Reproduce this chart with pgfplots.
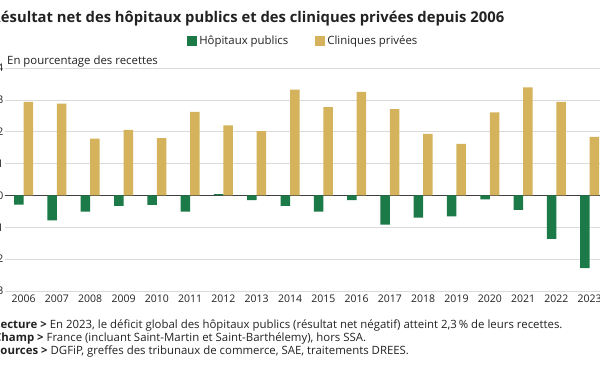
\documentclass[border=0pt]{standalone}
\usepackage{pgfplots}
\pgfplotsset{compat=1.18}
\usepackage{fontspec}
\setmainfont{Open Sans}
\definecolor{hop}{HTML}{1B7A47}
\definecolor{cli}{HTML}{D4B35C}
\definecolor{txt}{HTML}{222222}
\definecolor{gridc}{HTML}{DADADA}
\begin{document}
\begin{tikzpicture}
\begin{axis}[
  at={(5pt,-291pt)}, anchor=south west,
  scale only axis, width=595pt, height=223pt,
  xmin=2005.44, xmax=2023.31, ymin=-3, ymax=4,
  axis line style={draw=none},
  major tick length=0pt,
  ytick={-3,-2,-1,0,1,2,3,4},
  yticklabels={−3,−2,−1,0,1,2,3,4},
  xtick={2006,2007,2008,2009,2010,2011,2012,2013,2014,2015,2016,2017,2018,2019,2020,2021,2022,2023},
  xticklabels={2006,2007,2008,2009,2010,2011,2012,2013,2014,2015,2016,2017,2018,2019,2020,2021,2022,2023},
  ymajorgrids, grid style={gridc, line width=0.7pt},
  extra y ticks={0}, extra y tick labels={},
  extra y tick style={grid style={black!75, line width=0.9pt}},
  tick label style={font=\fontsize{10.5}{13}\selectfont, text=txt},
  yticklabel style={anchor=east, inner sep=0pt, xshift=-1.5pt},
  xticklabel style={anchor=north, inner sep=0pt, yshift=-4pt},
  legend style={at={(axis description cs:0.306,1.121)}, anchor=west, draw=none, fill=none, inner sep=0pt,
    font=\fontsize{11.4}{13}\selectfont, text=txt,
    /tikz/every even column/.append style={column sep=25pt}},
  legend columns=2,
  legend image code/.code={\fill[#1] (0pt,-5pt) rectangle (10pt,5pt);},
]
\addplot[ybar, bar width=9.5pt, bar shift=-4.75pt, fill=hop, draw=none] coordinates {
(2006,-0.29) (2007,-0.78) (2008,-0.51) (2009,-0.33) (2010,-0.30) (2011,-0.51)
(2012,0.04) (2013,-0.15) (2014,-0.33) (2015,-0.51) (2016,-0.15) (2017,-0.92)
(2018,-0.70) (2019,-0.66) (2020,-0.12) (2021,-0.45) (2022,-1.36) (2023,-2.28)};
\addlegendentry{Hôpitaux publics}
\addplot[ybar, bar width=9.5pt, bar shift=4.75pt, fill=cli, draw=none] coordinates {
(2006,2.94) (2007,2.88) (2008,1.78) (2009,2.06) (2010,1.80) (2011,2.62)
(2012,2.20) (2013,2.02) (2014,3.32) (2015,2.77) (2016,3.25) (2017,2.71)
(2018,1.93) (2019,1.62) (2020,2.61) (2021,3.39) (2022,2.94) (2023,1.84)};
\addlegendentry{Cliniques privées}
\end{axis}
\node[anchor=base west, inner sep=0pt, text=txt, font=\bfseries\fontsize{14.8}{18}\selectfont] at (-9pt,-23pt) {Résultat net des hôpitaux publics et des cliniques privées depuis 2006};
\node[anchor=base west, inner sep=0pt, text=txt, font=\fontsize{11.4}{13}\selectfont] at (7pt,-64pt) {En pourcentage des recettes};
\begin{scope}[every node/.style={anchor=base west, inner sep=0pt, text=txt, font=\fontsize{11.4}{12}\selectfont}]
\node at (-6pt,-328pt) {\textbf{Lecture >} En 2023, le déficit global des hôpitaux publics (résultat net négatif) atteint 2,3\,\% de leurs recettes.};
\node at (-6pt,-341pt) {\textbf{Champ >} France (incluant Saint-Martin et Saint-Barthélemy), hors SSA.};
\node at (-6pt,-354pt) {\textbf{Sources >} DGFiP, greffes des tribunaux de commerce, SAE, traitements DREES.};
\end{scope}
\pgfresetboundingbox
\path[use as bounding box] (0pt,-372pt) rectangle (600pt,0pt);
\end{tikzpicture}
\end{document}
